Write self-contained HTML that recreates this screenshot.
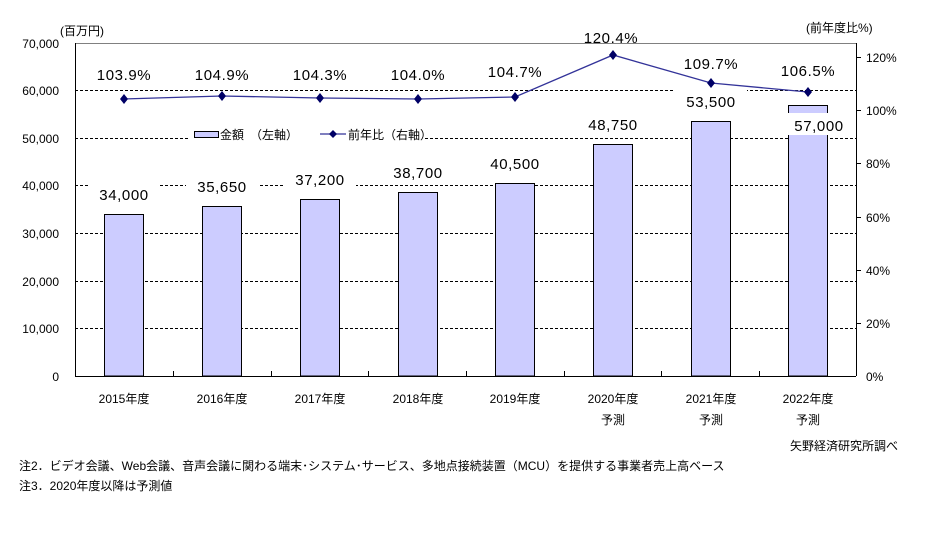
<!DOCTYPE html>
<html><head><meta charset="utf-8"><style>
body{margin:0;background:#fff}
text{font-family:"Liberation Sans","Noto Sans CJK JP",sans-serif;fill:#000}
.v{font-size:15px;letter-spacing:0.6px}
</style></head><body>
<svg width="926" height="544" viewBox="0 0 926 544" xmlns="http://www.w3.org/2000/svg">
<rect width="926" height="544" fill="#fff"/>
<g stroke="#000" stroke-width="1" stroke-dasharray="3,2">
<line x1="75" x2="856" y1="90.5" y2="90.5"/>
<line x1="75" x2="856" y1="138.5" y2="138.5"/>
<line x1="75" x2="856" y1="185.5" y2="185.5"/>
<line x1="75" x2="856" y1="233.5" y2="233.5"/>
<line x1="75" x2="856" y1="281.5" y2="281.5"/>
<line x1="75" x2="856" y1="328.5" y2="328.5"/>
</g>
<line x1="75" x2="856" y1="43.5" y2="43.5" stroke="#808080"/>
<g fill="#ccccff" stroke="#000" stroke-width="1">
<rect x="104.5" y="214.5" width="39" height="161.5"/>
<rect x="202.5" y="206.5" width="39" height="169.5"/>
<rect x="300.5" y="199.5" width="39" height="176.5"/>
<rect x="398.5" y="192.5" width="39" height="183.5"/>
<rect x="495.5" y="183.5" width="39" height="192.5"/>
<rect x="593.5" y="144.5" width="39" height="231.5"/>
<rect x="691.5" y="121.5" width="39" height="254.5"/>
<rect x="788.5" y="105.5" width="39" height="270.5"/>
</g>
<g fill="#fff">
<rect x="88" y="182" width="72" height="22"/>
<rect x="186" y="174" width="72" height="22"/>
<rect x="284" y="167" width="72" height="22"/>
<rect x="382" y="160" width="72" height="22"/>
<rect x="479" y="151" width="72" height="22"/>
<rect x="577" y="112" width="72" height="22"/>
<rect x="675" y="89" width="72" height="22"/>
<rect x="784" y="113" width="72" height="22"/>
<rect x="188" y="122" width="235" height="22"/>
</g>
<g class="v" text-anchor="middle">
<text x="124" y="200">34,000</text>
<text x="222" y="192">35,650</text>
<text x="320" y="185">37,200</text>
<text x="418" y="178">38,700</text>
<text x="515" y="169">40,500</text>
<text x="613" y="130">48,750</text>
<text x="711" y="107">53,500</text>
<text x="819" y="131">57,000</text>
<text x="124" y="80">103.9%</text>
<text x="222" y="80">104.9%</text>
<text x="320" y="80">104.3%</text>
<text x="418" y="80">104.0%</text>
<text x="515" y="77">104.7%</text>
<text x="611" y="43">120.4%</text>
<text x="711" y="69">109.7%</text>
<text x="808" y="76">106.5%</text>
</g>
<polyline fill="none" stroke="#333399" stroke-width="1.3" points="124,99 222,96 320,98 418,99 515,97 613,55 711,83 808,92"/>
<g fill="#000066">
<path d="M124,94l4,5l-4,5l-4,-5z"/><path d="M222,91l4,5l-4,5l-4,-5z"/>
<path d="M320,93l4,5l-4,5l-4,-5z"/><path d="M418,94l4,5l-4,5l-4,-5z"/>
<path d="M515,92l4,5l-4,5l-4,-5z"/><path d="M613,50l4,5l-4,5l-4,-5z"/>
<path d="M711,78l4,5l-4,5l-4,-5z"/><path d="M808,87l4,5l-4,5l-4,-5z"/>
</g>
<rect x="194.5" y="131.5" width="24" height="6" fill="#ccccff" stroke="#000"/>
<text x="220" y="139" font-size="12">金額　（左軸）</text>
<line x1="320" x2="346" y1="134" y2="134" stroke="#333399" stroke-width="1.3"/>
<path d="M333,130l4,4l-4,4l-4,-4z" fill="#000066"/>
<text x="348" y="139" font-size="12">前年比（右軸）</text>
<g stroke="#000" stroke-width="1">
<line x1="75.5" x2="75.5" y1="43" y2="376"/>
<line x1="856.5" x2="856.5" y1="43" y2="376"/>
<line x1="75" x2="856" y1="376.5" y2="376.5"/>
<line x1="173.5" x2="173.5" y1="371" y2="376"/><line x1="271.5" x2="271.5" y1="371" y2="376"/>
<line x1="368.5" x2="368.5" y1="371" y2="376"/><line x1="466.5" x2="466.5" y1="371" y2="376"/>
<line x1="564.5" x2="564.5" y1="371" y2="376"/><line x1="661.5" x2="661.5" y1="371" y2="376"/>
<line x1="759.5" x2="759.5" y1="371" y2="376"/>
<line x1="856" x2="861" y1="57.5" y2="57.5"/><line x1="856" x2="861" y1="110.5" y2="110.5"/>
<line x1="856" x2="861" y1="163.5" y2="163.5"/><line x1="856" x2="861" y1="217.5" y2="217.5"/>
<line x1="856" x2="861" y1="270.5" y2="270.5"/><line x1="856" x2="861" y1="323.5" y2="323.5"/>
</g>
<g font-size="12" text-anchor="end">
<text x="59" y="48">70,000</text><text x="59" y="95">60,000</text>
<text x="59" y="143">50,000</text><text x="59" y="190">40,000</text>
<text x="59" y="238">30,000</text><text x="59" y="286">20,000</text>
<text x="59" y="333">10,000</text><text x="59" y="381">0</text>
</g>
<g font-size="12">
<text x="866" y="62">120%</text><text x="866" y="115">100%</text>
<text x="866" y="168">80%</text><text x="866" y="222">60%</text>
<text x="866" y="275">40%</text><text x="866" y="328">20%</text>
<text x="866" y="381">0%</text>
<text x="60" y="35">(百万円)</text>
<text x="806" y="32">(前年度比%)</text>
</g>
<g font-size="12" text-anchor="middle">
<text x="124" y="403">2015年度</text><text x="222" y="403">2016年度</text>
<text x="320" y="403">2017年度</text><text x="418" y="403">2018年度</text>
<text x="515" y="403">2019年度</text><text x="613" y="403">2020年度</text>
<text x="711" y="403">2021年度</text><text x="808" y="403">2022年度</text>
<text x="613" y="424">予測</text><text x="711" y="424">予測</text><text x="808" y="424">予測</text>
</g>
<text x="898" y="450" font-size="12" text-anchor="end">矢野経済研究所調べ</text>
<text x="19" y="470" font-size="12">注2．ビデオ会議、Web会議、音声会議に関わる端末･システム･サービス、多地点接続装置（MCU）を提供する事業者売上高ベース</text>
<text x="19" y="490" font-size="12">注3．2020年度以降は予測値</text>
</svg>
</body></html>
